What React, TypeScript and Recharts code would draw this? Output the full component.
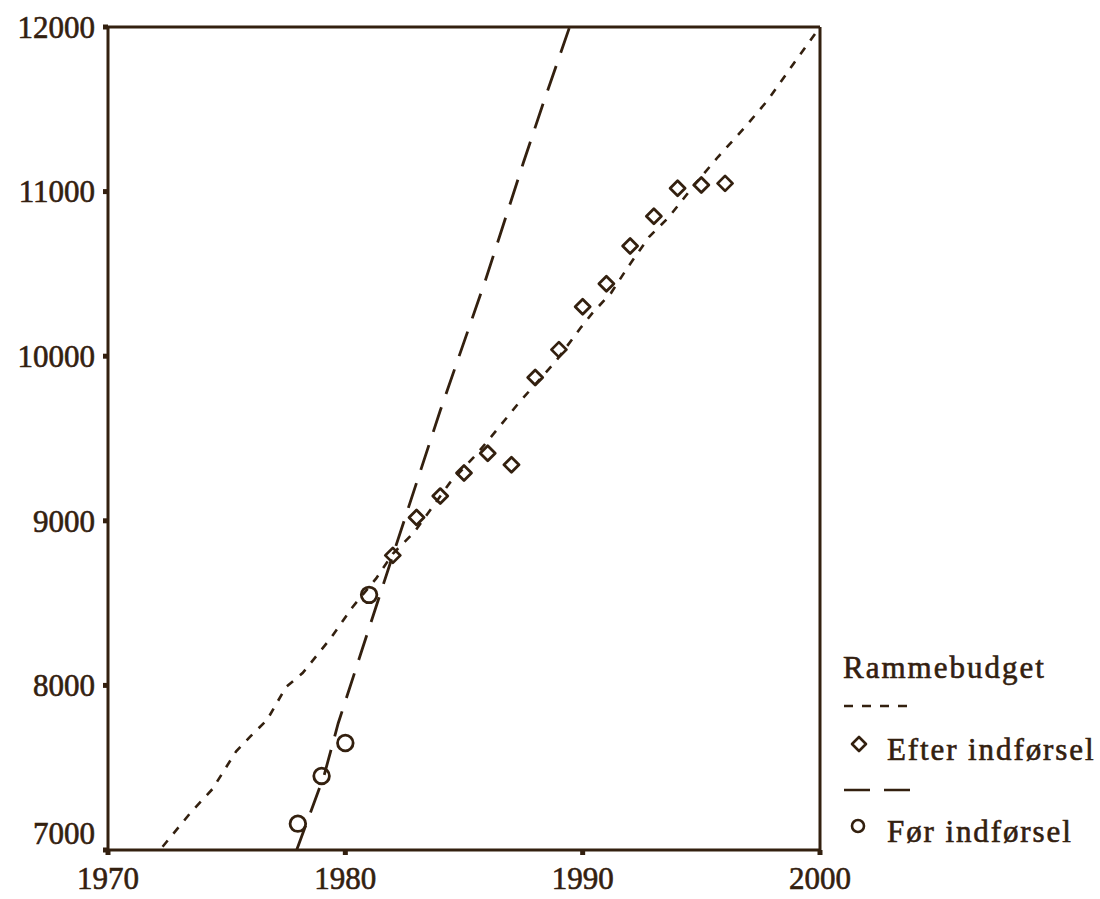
import { ComposedChart, Line, Scatter, XAxis, YAxis, ReferenceLine } from "recharts"

const INK = "#33200f"
const FONT = "'Liberation Serif', 'Times New Roman', serif"

// observations
const efterYears = [1982, 1983, 1984, 1985, 1986, 1987, 1988, 1989, 1990, 1991, 1992, 1993, 1994, 1995, 1996]
const efterValues = [8790, 9020, 9150, 9290, 9410, 9340, 9870, 10040, 10300, 10440, 10670, 10850, 11020, 11040, 11050]

const forYears = [1978, 1979, 1980, 1981]
const forValues = [7160, 7450, 7650, 8550]

// fit lines
const efterFitYears = [1972.3, 1973.5, 1974.4, 1975.4, 1976, 1976.7, 1977.5, 1978.2, 1979.4, 1980.3, 1981.3, 1982, 1982.9, 1984.4, 1985.5, 1986.2, 1987.3, 1988.9, 1989.9, 1990.4, 1991.2, 1991.9, 1992.8, 1993.6, 1994.1, 1994.7, 1995.7, 1996.8, 1997.8, 1998.9, 2000]
const efterFitValues = [7020, 7230, 7370, 7600, 7690, 7790, 7990, 8075, 8290, 8475, 8650, 8800, 8930, 9230, 9400, 9520, 9715, 9975, 10170, 10260, 10385, 10540, 10725, 10840, 10930, 11040, 11210, 11385, 11555, 11780, 12000]

const forFitYears = [1977.95, 1979.1, 1979.7, 1980.7, 1982, 1984, 1985.9, 1987.5, 1988.3, 1989.45]
const forFitValues = [7000, 7450, 7770, 8215, 8790, 9670, 10460, 11175, 11520, 12000]

const xTicks = [1970, 1980, 1990, 2000]
const yTicks = [7000, 8000, 9000, 10000, 11000, 12000]

const legendTitle = "Rammebudget"
const legendEfter = "Efter indførsel"
const legendFor = "Før indførsel"

const toRows = (xs: number[], ys: number[]) => xs.map((year, i) => ({ year, value: ys[i] }))

const efterData = toRows(efterYears, efterValues)
const forData = toRows(forYears, forValues)
const efterFit = toRows(efterFitYears, efterFitValues)
const forFit = toRows(forFitYears, forFitValues)

const Diamond = (props: any) => {
  const { cx, cy } = props
  const s = 7.5
  return (
    <path
      d={`M${cx},${cy - s} L${cx + s},${cy} L${cx},${cy + s} L${cx - s},${cy} Z`}
      fill="none"
      stroke={INK}
      strokeWidth={2.8}
      strokeLinejoin="round"
    />
  )
}

const Ring = (props: any) => {
  const { cx, cy } = props
  return <circle cx={cx} cy={cy} r={7.8} fill="none" stroke={INK} strokeWidth={2.8} />
}

const textStyle = { fill: INK, fontSize: 31, fontFamily: FONT, stroke: INK, strokeWidth: 0.6 }

const YTick = (props: any) => {
  const { x, y, payload } = props
  const shift = payload.value === 7000 ? -17 : 0
  return (
    <text x={x} y={y + shift} dy="0.35em" textAnchor="end" {...textStyle}>
      {payload.value}
    </text>
  )
}

const XTick = (props: any) => {
  const { x, y, payload } = props
  return (
    <text x={x} y={y} dy="0.71em" textAnchor="middle" {...textStyle}>
      {payload.value}
    </text>
  )
}

function LegendBox() {
  const txt = { ...textStyle, letterSpacing: 1.9 }
  return (
    <svg width={270} height={230} style={{ position: "absolute", left: 830, top: 640 }}>
      <text x={13} y={38} {...txt} letterSpacing={2}>{legendTitle}</text>
      <line x1={14} y1={66} x2={80} y2={66} stroke={INK} strokeWidth={2.6} strokeDasharray="9 9" />
      <path d="M29,97 L36,104 L29,111 L22,104 Z" fill="none" stroke={INK} strokeWidth={2.6} strokeLinejoin="round" />
      <text x={57} y={120} {...txt}>{legendEfter}</text>
      <line x1={14} y1={150} x2={80} y2={150} stroke={INK} strokeWidth={2.6} strokeDasharray="26 14" />
      <circle cx={28} cy={186} r={6} fill="none" stroke={INK} strokeWidth={2.6} />
      <text x={57} y={202} {...txt}>{legendFor}</text>
    </svg>
  )
}

export default function App() {
  return (
    <div style={{ position: "absolute", left: 0, top: 0, width: 1100, height: 899, background: "#fff" }}>
      <ComposedChart width={1100} height={899} margin={{ top: 27, right: 280, bottom: 0, left: 8 }}>
        <XAxis
          dataKey="year"
          type="number"
          domain={[1970, 2000]}
          ticks={xTicks}
          height={49}
          stroke={INK}
          strokeWidth={3}
          tickSize={5}
          tickLine={{ stroke: INK, strokeWidth: 5 }}
          tickMargin={12}
          tick={<XTick />}
          allowDataOverflow
        />
        <YAxis
          type="number"
          domain={[7000, 12000]}
          ticks={yTicks}
          width={100}
          stroke={INK}
          strokeWidth={3}
          tickSize={5}
          tickLine={{ stroke: INK, strokeWidth: 5 }}
          tickMargin={8}
          tick={<YTick />}
          allowDataOverflow
        />
        <ReferenceLine y={12000} stroke={INK} strokeWidth={3} />
        <ReferenceLine x={2000} stroke={INK} strokeWidth={3} />
        <Line
          data={efterFit}
          dataKey="value"
          type="linear"
          stroke={INK}
          strokeWidth={2.6}
          strokeDasharray="8 9"
          dot={false}
          activeDot={false}
          isAnimationActive={false}
        />
        <Line
          data={forFit}
          dataKey="value"
          type="linear"
          stroke={INK}
          strokeWidth={2.8}
          strokeDasharray="26 14"
          dot={false}
          activeDot={false}
          isAnimationActive={false}
        />
        <Scatter data={efterData} dataKey="value" shape={<Diamond />} isAnimationActive={false} />
        <Scatter data={forData} dataKey="value" shape={<Ring />} isAnimationActive={false} />
      </ComposedChart>
      <LegendBox />
    </div>
  )
}
